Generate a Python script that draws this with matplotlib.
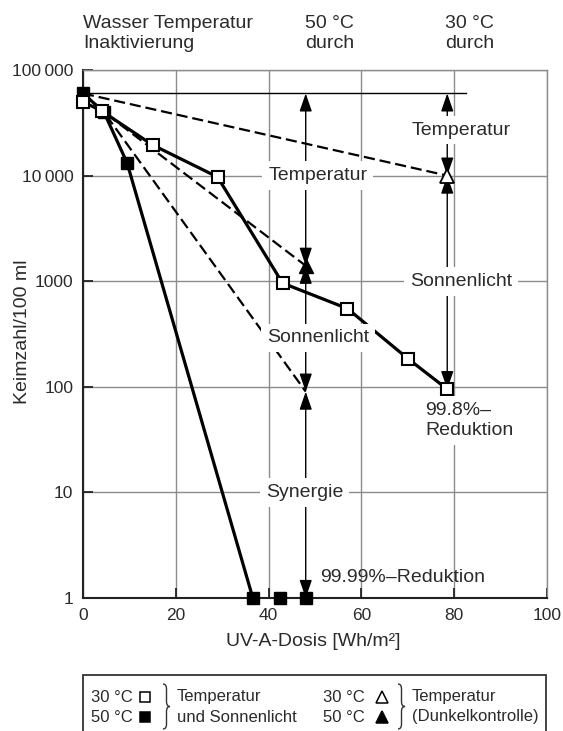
import matplotlib
matplotlib.use("Agg")
import matplotlib.pyplot as plt
from matplotlib.lines import Line2D
from matplotlib.patches import Rectangle, PathPatch
from matplotlib.path import Path

plt.rcParams['font.family'] = ['Liberation Sans', 'DejaVu Sans']

TXT = '#2b2b2b'
GRID = '#8c8c8c'
W, H = 563, 731

# 30 °C, Temperatur und Sonnenlicht
dose_30 = [0, 4, 15, 29, 43, 57, 70, 78.5]
count_30 = [50000, 41000, 19500, 9700, 960, 550, 185, 95]
# 50 °C, Temperatur und Sonnenlicht
dose_50 = [0, 4.5, 9.5, 36.6]
count_50 = [60000, 40000, 13200, 1]
dose_50_end = [42.5, 48]
count_50_end = [1, 1]
# Dunkelkontrolle
dark_dose_30 = [0, 78.5]
dark_count_30 = [60000, 10000]
dark_dose_50 = [0, 4.5, 48]
dark_count_50 = [60000, 40000, 1400]
# Temperatur + Sonnenlicht ohne Synergie
sum_dose_50 = [0, 4.5, 48]
sum_count_50 = [60000, 40000, 90]
start_count = 60000
start_line_end = 82.5

# arrows: x position and the levels they connect
arrow_x_50 = 48
arrow_levels_50 = [60000, 1400, 90, 1]
arrow_x_30 = 78.5
arrow_levels_30 = [60000, 10000, 95]

y_ticks = [1, 10, 100, 1000, 10000, 100000]
y_ticklabels = ['1', '10', '100', '1000', '10\u2009000', '100\u2009000']
x_ticks = [0, 20, 40, 60, 80, 100]


def px(x, y):
    return x / W, 1 - y / H


fig = plt.figure(figsize=(W / 100, H / 100), dpi=100)
ax = fig.add_axes([83 / W, 1 - 598 / H, 464 / W, 528 / H])
ax.set_yscale('log')
ax.set_xlim(0, 100)
ax.set_ylim(1, 100000)
ax.set_xticks(x_ticks)
ax.set_yticks(y_ticks)
ax.set_yticklabels(y_ticklabels)
ax.minorticks_off()
ax.grid(True, color=GRID, lw=1)
ax.set_axisbelow(True)
for s in ['left', 'bottom']:
    ax.spines[s].set_color('#222')
    ax.spines[s].set_linewidth(1.5)
for s in ['top', 'right']:
    ax.spines[s].set_color(GRID)
    ax.spines[s].set_linewidth(1)
ax.tick_params(direction='in', length=7, width=1.3, color='#222',
               labelsize=12.5, labelcolor=TXT, pad=7)

dash = (0, (5, 2.2))
ax.plot([0, start_line_end], [start_count, start_count], color='k', lw=1)
ax.plot(dark_dose_30, dark_count_30, color='k', lw=1.6, ls=dash)
ax.plot(dark_dose_50, dark_count_50, color='k', lw=1.6, ls=dash)
ax.plot(sum_dose_50, sum_count_50, color='k', lw=1.6, ls=dash)
ax.plot(dose_50, count_50, color='k', lw=2.3, marker='s', ms=9, mfc='k',
        mec='k', clip_on=False, zorder=4)
ax.plot(dose_50_end, count_50_end, ls='none', marker='s', ms=9, mfc='k',
        mec='k', clip_on=False, zorder=4)
ax.plot(dose_30, count_30, color='k', lw=2.3, marker='s', ms=9, mfc='white',
        mec='k', mew=1.5, clip_on=False, zorder=5)
ax.plot(dark_dose_30[-1:], dark_count_30[-1:], ls='none', marker='^', ms=10,
        mfc='white', mec='k', mew=1.3, zorder=5)
ax.plot(dark_dose_50[-1:], dark_count_50[-1:], ls='none', marker='^', ms=10,
        mfc='k', mec='k', zorder=5)

arrow_style = dict(arrowstyle='<|-|>,head_length=1.1,head_width=0.38',
                   color='k', lw=1, shrinkA=0, shrinkB=0, mutation_scale=10)
for xa, levels in [(arrow_x_50, arrow_levels_50), (arrow_x_30, arrow_levels_30)]:
    for y0, y1 in zip(levels[:-1], levels[1:]):
        ax.annotate('', xy=(xa, y1), xytext=(xa, y0), arrowprops=arrow_style,
                    zorder=3)

FS = 14
box = dict(boxstyle='square,pad=0.3', fc='white', ec='none')
label_kw = dict(fontsize=FS, color=TXT, ha='center', va='center', bbox=box,
                zorder=6)
ax.text(50.6, 10000, 'Temperatur', **label_kw)
ax.text(50.6, 290, 'Sonnenlicht', **label_kw)
ax.text(47.8, 10, 'Synergie', **label_kw)
ax.text(81.5, 27000, 'Temperatur', **label_kw)
ax.text(81.5, 1000, 'Sonnenlicht', **label_kw)
ax.text(73.7, 48, '99.8%–\nReduktion', fontsize=FS, color=TXT, ha='left',
        va='center', bbox=box, zorder=6)
ax.text(51, 1.55, '99.99%–Reduktion', fontsize=FS, color=TXT, ha='left',
        va='center', zorder=6)

# header above the plot
xt = ax.get_xaxis_transform()
head_y = 1 + (70 - 33.5) / 528
ax.text(0, head_y, 'Wasser Temperatur\nInaktivierung', transform=xt,
        fontsize=FS, color=TXT, ha='left', va='center', linespacing=1.2)
ax.text(47.8, head_y, '50 °C\ndurch', transform=xt, fontsize=FS, color=TXT,
        ha='left', va='center', linespacing=1.2)
ax.text(78, head_y, '30 °C\ndurch', transform=xt, fontsize=FS, color=TXT,
        ha='left', va='center', linespacing=1.2)

fig.text(*px(23, 332), 'Keimzahl/100 ml', rotation=90, fontsize=FS,
         color=TXT, ha='center', va='center')
fig.text(*px(313, 641), 'UV-A-Dosis [Wh/m²]', fontsize=FS, color=TXT,
         ha='center', va='center')

# legend box below the plot
x0, y0 = px(83, 740)
x1, y1 = px(546, 675)
fig.add_artist(Rectangle((x0, y0), x1 - x0, y1 - y0, transform=fig.transFigure,
                         fc='white', ec='#333', lw=1.3))


def brace(x, ytop, ybot, w):
    ym = (ytop + ybot) / 2
    r = 5
    pts = [(x, ytop), (x + w / 2, ytop), (x + w / 2, ytop + r),
           (x + w / 2, ym - r), (x + w / 2, ym), (x + w, ym),
           (x + w / 2, ym), (x + w / 2, ym + r),
           (x + w / 2, ybot - r), (x + w / 2, ybot), (x, ybot)]
    codes = [Path.MOVETO, Path.CURVE3, Path.CURVE3, Path.LINETO,
             Path.CURVE3, Path.CURVE3, Path.CURVE3, Path.CURVE3,
             Path.LINETO, Path.CURVE3, Path.CURVE3]
    verts = [px(a, b) for a, b in pts]
    fig.add_artist(PathPatch(Path(verts, codes), transform=fig.transFigure,
                             fc='none', ec='#333', lw=1))


row1, row2 = 697, 717
leg_kw = dict(fontsize=12, color=TXT, va='center', ha='left')
fig.text(*px(91, row1), '30 °C', **leg_kw)
fig.text(*px(91, row2), '50 °C', **leg_kw)
fig.text(*px(177, row1), 'Temperatur', **leg_kw)
fig.text(*px(177, row2), 'und Sonnenlicht', **leg_kw)
fig.text(*px(323, row1), '30 °C', **leg_kw)
fig.text(*px(323, row2), '50 °C', **leg_kw)
fig.text(*px(412, row1), 'Temperatur', **leg_kw)
fig.text(*px(412, row2), '(Dunkelkontrolle)', **leg_kw)
for mx, my, m, fc, ms in [(145, row1, 's', 'white', 6.5), (145, row2, 's', 'k', 6.5),
                          (382, row1, '^', 'white', 8.5), (382, row2, '^', 'k', 8.5)]:
    fig.add_artist(Line2D([mx / W], [1 - my / H], marker=m, ms=ms, mfc=fc,
                          mec='k', mew=1.1, transform=fig.transFigure))
brace(163, 684, 729, 7)
brace(398, 684, 729, 7)

fig.savefig('out.png', dpi=100)
